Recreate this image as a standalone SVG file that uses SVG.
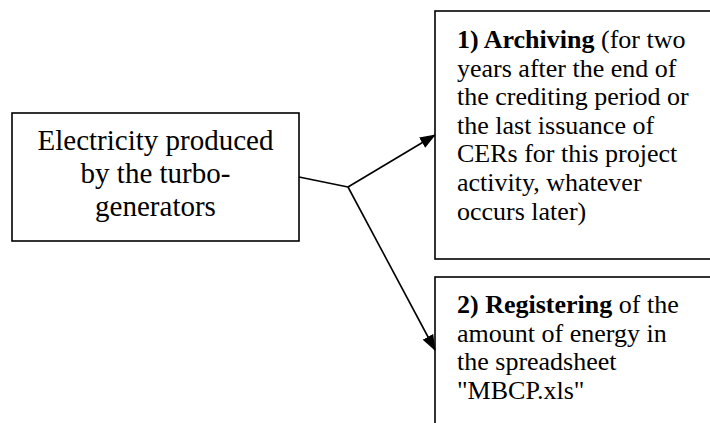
<svg xmlns="http://www.w3.org/2000/svg" width="710" height="423" viewBox="0 0 710 423">
<style>
.box{fill:#fff;stroke:#000;stroke-width:1.6}
.t{font-family:"Liberation Serif","Times New Roman",serif;fill:#000}
.l{font-size:29px}
.r{font-size:26px}
.b{font-weight:bold}
.c{fill:none;stroke:#000;stroke-width:1.6}
</style>
<defs>
<marker id="ah" markerUnits="userSpaceOnUse" markerWidth="16" markerHeight="12" refX="15" refY="6" orient="auto">
<path d="M0,0 L16,6 L0,12 z" fill="#000"/>
</marker>
</defs>
<g id="source">
<rect class="box" x="12" y="113" width="287" height="128"/>
<text class="t l" text-anchor="middle" x="155.5" y="150">Electricity produced</text>
<text class="t l" text-anchor="middle" x="155.5" y="183">by the turbo-</text>
<text class="t l" text-anchor="middle" x="155.5" y="216">generators</text>
</g>
<g id="archiving">
<rect class="box" x="435" y="11" width="300" height="248"/>
<text class="t r" x="457" y="48"><tspan class="b">1) Archiving</tspan> (for two</text>
<text class="t r" x="457" y="76.6">years after the end of</text>
<text class="t r" x="457" y="105.2">the crediting period or</text>
<text class="t r" x="457" y="133.8">the last issuance of</text>
<text class="t r" x="457" y="162.4">CERs for this project</text>
<text class="t r" x="457" y="191">activity, whatever</text>
<text class="t r" x="457" y="219.6">occurs later)</text>
</g>
<g id="registering">
<rect class="box" x="435" y="277" width="300" height="200"/>
<text class="t r" x="457" y="313"><tspan class="b">2) Registering</tspan> of the</text>
<text class="t r" x="457" y="341.6">amount of energy in</text>
<text class="t r" x="457" y="370.2">the spreadsheet</text>
<text class="t r" x="457" y="398.8">"MBCP.xls"</text>
</g>
<g id="connectors">
<polyline class="c" points="299,177 348,187"/>
<line class="c" x1="348" y1="187" x2="435" y2="135" marker-end="url(#ah)"/>
<line class="c" x1="348" y1="187" x2="435" y2="350" marker-end="url(#ah)"/>
</g>
</svg>
